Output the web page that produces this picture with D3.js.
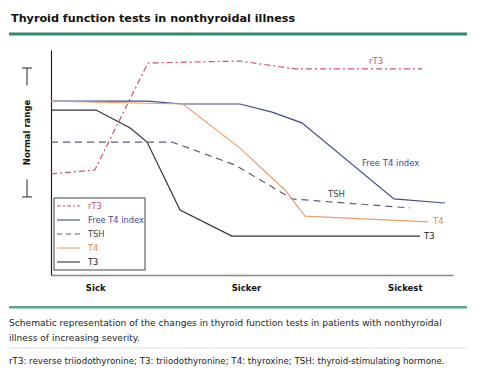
<!DOCTYPE html>
<html><head><meta charset="utf-8">
<script src="https://cdn.jsdelivr.net/npm/d3@7/dist/d3.min.js"></script>
<style>body{margin:0;background:#fff;}svg{display:block;}</style>
</head><body>
<script>
// ---- data ----
const title = "Thyroid function tests in nonthyroidal illness";
const severityTicks = [11, 48.5, 88];
const severityLabels = ["Sick", "Sicker", "Sickest"];
const normalRange = [34.7, 92];
const seriesNames = ["rT3", "Free T4 index", "TSH", "T4", "T3"];
const rT3 = [[0,44.9],[10.9,46.7],[24.1,94.2],[47,95.1],[60.7,91.6],[92.3,91.6]];
const freeT4Index = [[0,77.3],[24.1,77.3],[32.6,76],[47,76],[55,72.4],[62.4,67.6],[85.3,33.8],[98,32]];
const tsh = [[0,59.1],[30.1,59.1],[45.8,48.9],[60,33.8],[89.3,29.8]];
const t4 = [[0,77.3],[32.8,76],[47,56.4],[58.2,37.8],[63.2,26.2],[93.8,23.6]];
const t3 = [[0,73.3],[11.2,73.3],[19.7,65.3],[23.9,59.1],[32.1,28.9],[45,17.3],[91.8,17.3]];
const captionLines = ["Schematic representation of the changes in thyroid function tests in patients with nonthyroidal","illness of increasing severity."];
const footnote = "rT3: reverse triiodothyronine; T3: triiodothyronine; T4: thyroxine; TSH: thyroid-stimulating hormone.";

const W = 480, H = 377;
const font = "DejaVu Sans, Verdana, sans-serif";
const svg = d3.select("body").append("svg").attr("width", W).attr("height", H)
  .style("font-family", font);

svg.append("text").attr("x", 11).attr("y", 22).text(title)
  .attr("font-weight", "bold").attr("font-size", 11.2).attr("fill", "#111");
svg.append("rect").attr("x", 9).attr("y", 32.5).attr("width", 458).attr("height", 3).attr("fill", "#2e8b6b");

const x = d3.scaleLinear().domain([0, 100]).range([51, 453]);
const y = d3.scaleLinear().domain([0, 100]).range([275, 50]);

// axes
const xAxis = svg.append("g").attr("transform", `translate(0,${y(0)})`)
  .call(d3.axisBottom(x).tickValues(severityTicks).tickFormat((d,i)=>severityLabels[i]).tickSize(0).tickPadding(10));
xAxis.select(".domain").attr("stroke", "#888").attr("stroke-width", 1.6);
xAxis.selectAll("text").attr("font-weight", "bold").attr("font-size", 8.5).attr("fill", "#111").attr("font-family", font);

const yAxis = svg.append("g").attr("transform", `translate(${x(0)},0)`)
  .call(d3.axisLeft(y).tickValues([]).tickSize(0));
yAxis.select(".domain").attr("stroke", "#222").attr("stroke-width", 1.2);

// normal range bracket
const bx = 27;
const g = svg.append("g").attr("stroke", "#222").attr("stroke-width", 1);
g.append("line").attr("x1", bx-5).attr("x2", bx+5).attr("y1", y(normalRange[1])).attr("y2", y(normalRange[1]));
g.append("line").attr("x1", bx-5).attr("x2", bx+5).attr("y1", y(normalRange[0])).attr("y2", y(normalRange[0]));
const mid = (y(normalRange[0]) + y(normalRange[1])) / 2;
g.append("line").attr("x1", bx).attr("x2", bx).attr("y1", y(normalRange[1])).attr("y2", mid - 47);
g.append("line").attr("x1", bx).attr("x2", bx).attr("y1", mid + 47).attr("y2", y(normalRange[0]));
svg.append("text").attr("transform", `translate(${bx+3},${mid}) rotate(-90)`)
  .attr("text-anchor", "middle").attr("font-weight", "bold").attr("font-size", 8.5).attr("fill", "#111")
  .text("Normal range");

const styles = [
  {data: rT3, color: "#c8566a", dash: "6,3,2,3", label: "rT3", lx: 369, ly: 64, lc: "#c8566a"},
  {data: freeT4Index, color: "#3f4d86", dash: null, label: "Free T4 index", lx: 362, ly: 166, lc: "#3a4a8c"},
  {data: tsh, color: "#5c5c78", dash: "7,5", label: "TSH", lx: 328, ly: 197, lc: "#444"},
  {data: t4, color: "#e6a070", dash: null, label: "T4", lx: 433, ly: 224, lc: "#e08a50"},
  {data: t3, color: "#333", dash: null, label: "T3", lx: 424, ly: 239, lc: "#222"}
];
const line = d3.line().x(d => x(d[0])).y(d => y(d[1]));
styles.forEach(s => {
  svg.append("path").attr("d", line(s.data)).attr("fill", "none").attr("stroke", s.color)
    .attr("stroke-width", 1.2).attr("stroke-dasharray", s.dash);
  svg.append("text").attr("x", s.lx).attr("y", s.ly).attr("font-size", 8.5).attr("fill", s.lc).text(s.label);
});

// legend
const lg = svg.append("g").attr("transform", "translate(54,198)");
lg.append("rect").attr("width", 91).attr("height", 72).attr("fill", "#fff").attr("stroke", "#444").attr("stroke-width", 1);
styles.forEach((s, i) => {
  const yy = 8 + i * 14;
  lg.append("line").attr("x1", 3).attr("x2", 26).attr("y1", yy).attr("y2", yy)
    .attr("stroke", s.color).attr("stroke-width", 1.1).attr("stroke-dasharray", s.dash ? (s.dash==="7,5" ? "5,4" : "4,2,2,2") : null);
  lg.append("text").attr("x", 34).attr("y", yy + 3).attr("font-size", 8.3).attr("fill", s.lc).text(seriesNames[i]);
});

svg.append("rect").attr("x", 9).attr("y", 306).attr("width", 458).attr("height", 2.5).attr("fill", "#5aa88a");
captionLines.forEach((t, i) => {
  svg.append("text").attr("x", 9).attr("y", 326 + i * 15).attr("font-size", 9.1).attr("fill", "#222").text(t);
});
svg.append("line").attr("x1", 9).attr("x2", 467).attr("y1", 348).attr("y2", 348).attr("stroke", "#ddd").attr("stroke-width", 1);
svg.append("text").attr("x", 9).attr("y", 364).attr("font-size", 8.7).attr("fill", "#222").text(footnote);
</script>
</body></html>
